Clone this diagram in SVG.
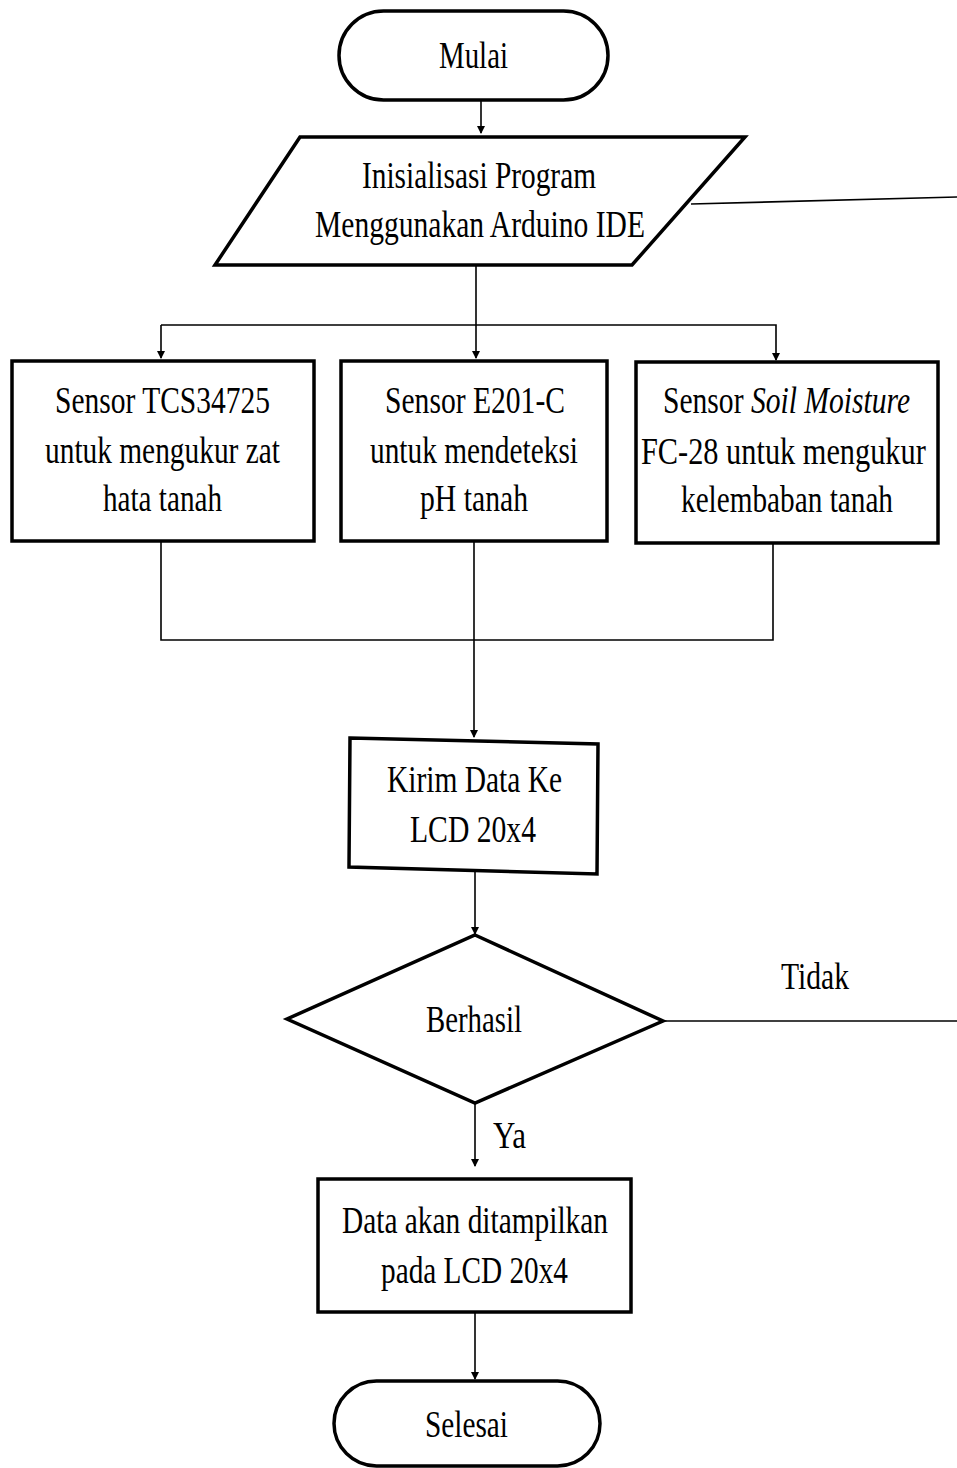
<svg xmlns="http://www.w3.org/2000/svg" width="957" height="1468" viewBox="0 0 957 1468">
<defs>
<marker id="ah" markerWidth="8" markerHeight="10" refX="7" refY="5" orient="auto" markerUnits="userSpaceOnUse">
<path d="M0,1 L8,5 L0,9 Z" fill="#000"/>
</marker>
<style>
.shape{fill:#fff;stroke:#000;stroke-width:3.5}
.conn{fill:none;stroke:#000;stroke-width:1.6}
.t{font-family:"Liberation Serif","Times New Roman",serif;font-size:38px;fill:#000}
</style>
</defs>
<rect width="957" height="1468" fill="#fff"/>
<g id="connectors">
<line class="conn" x1="481" y1="100" x2="481" y2="133" marker-end="url(#ah)"/>
<polyline class="conn" points="691,204 957,197"/>
<line class="conn" x1="476" y1="266" x2="476" y2="325"/>
<polyline class="conn" points="161,325 776,325 776,360" marker-end="url(#ah)"/>
<line class="conn" x1="161" y1="325" x2="161" y2="358" marker-end="url(#ah)"/>
<line class="conn" x1="476" y1="325" x2="476" y2="358" marker-end="url(#ah)"/>
<polyline class="conn" points="161,541 161,640 773,640 773,543"/>
<line class="conn" x1="474" y1="541" x2="474" y2="737" marker-end="url(#ah)"/>
<line class="conn" x1="475" y1="872" x2="475" y2="934" marker-end="url(#ah)"/>
<line class="conn" x1="663" y1="1021" x2="957" y2="1021"/>
<line class="conn" x1="475" y1="1103" x2="475" y2="1166" marker-end="url(#ah)"/>
<line class="conn" x1="475" y1="1312" x2="475" y2="1379" marker-end="url(#ah)"/>
</g>
<g id="mulai">
<rect class="shape" x="339" y="11" width="269" height="89" rx="44.5"/>
<text class="t" x="439" y="68" textLength="69" lengthAdjust="spacingAndGlyphs">Mulai</text>
</g>
<g id="inisialisasi">
<polygon class="shape" points="300,137 745,137 632,265 215,265"/>
<text class="t" x="362" y="188" textLength="234" lengthAdjust="spacingAndGlyphs">Inisialisasi Program</text>
<text class="t" x="315" y="237" textLength="330" lengthAdjust="spacingAndGlyphs">Menggunakan Arduino IDE</text>
</g>
<g id="sensor-tcs">
<rect class="shape" x="12" y="361" width="302" height="180"/>
<text class="t" x="55" y="413" textLength="215" lengthAdjust="spacingAndGlyphs">Sensor TCS34725</text>
<text class="t" x="45" y="463" textLength="235" lengthAdjust="spacingAndGlyphs">untuk mengukur zat</text>
<text class="t" x="103" y="511" textLength="119" lengthAdjust="spacingAndGlyphs">hata tanah</text>
</g>
<g id="sensor-e201">
<rect class="shape" x="341" y="361" width="266" height="180"/>
<text class="t" x="385" y="413" textLength="180" lengthAdjust="spacingAndGlyphs">Sensor E201-C</text>
<text class="t" x="370" y="463" textLength="208" lengthAdjust="spacingAndGlyphs">untuk mendeteksi</text>
<text class="t" x="420" y="511" textLength="108" lengthAdjust="spacingAndGlyphs">pH tanah</text>
</g>
<g id="sensor-soil">
<rect class="shape" x="636" y="362" width="302" height="181"/>
<text class="t" transform="translate(663,413) scale(0.78,1)" x="0" y="0" textLength="316.7" lengthAdjust="spacingAndGlyphs">Sensor <tspan font-style="italic">Soil Moisture</tspan></text>
<text class="t" transform="translate(641,464) scale(0.8,1)" x="0" y="0" textLength="356" lengthAdjust="spacingAndGlyphs">FC-28 untuk mengukur</text>
<text class="t" x="681" y="512" textLength="212" lengthAdjust="spacingAndGlyphs">kelembaban tanah</text>
</g>
<g id="kirim">
<polygon class="shape" points="350,738 598,744 597,874 349,867"/>
<text class="t" x="387" y="792" textLength="175" lengthAdjust="spacingAndGlyphs">Kirim Data Ke</text>
<text class="t" x="410" y="842" textLength="126" lengthAdjust="spacingAndGlyphs">LCD 20x4</text>
</g>
<g id="berhasil">
<polygon class="shape" points="475,935 663,1021 475,1103 287,1019"/>
<text class="t" x="426" y="1032" textLength="96" lengthAdjust="spacingAndGlyphs">Berhasil</text>
</g>
<g id="labels">
<text class="t" x="781" y="989" textLength="68" lengthAdjust="spacingAndGlyphs">Tidak</text>
<text class="t" x="493" y="1148" textLength="33" lengthAdjust="spacingAndGlyphs">Ya</text>
</g>
<g id="tampilkan">
<rect class="shape" x="318" y="1179" width="313" height="133"/>
<text class="t" x="342" y="1233" textLength="266" lengthAdjust="spacingAndGlyphs">Data akan ditampilkan</text>
<text class="t" x="381" y="1283" textLength="187" lengthAdjust="spacingAndGlyphs">pada LCD 20x4</text>
</g>
<g id="selesai">
<rect class="shape" x="334" y="1381" width="266" height="85" rx="42.5"/>
<text class="t" x="425" y="1437" textLength="83" lengthAdjust="spacingAndGlyphs">Selesai</text>
</g>
</svg>
